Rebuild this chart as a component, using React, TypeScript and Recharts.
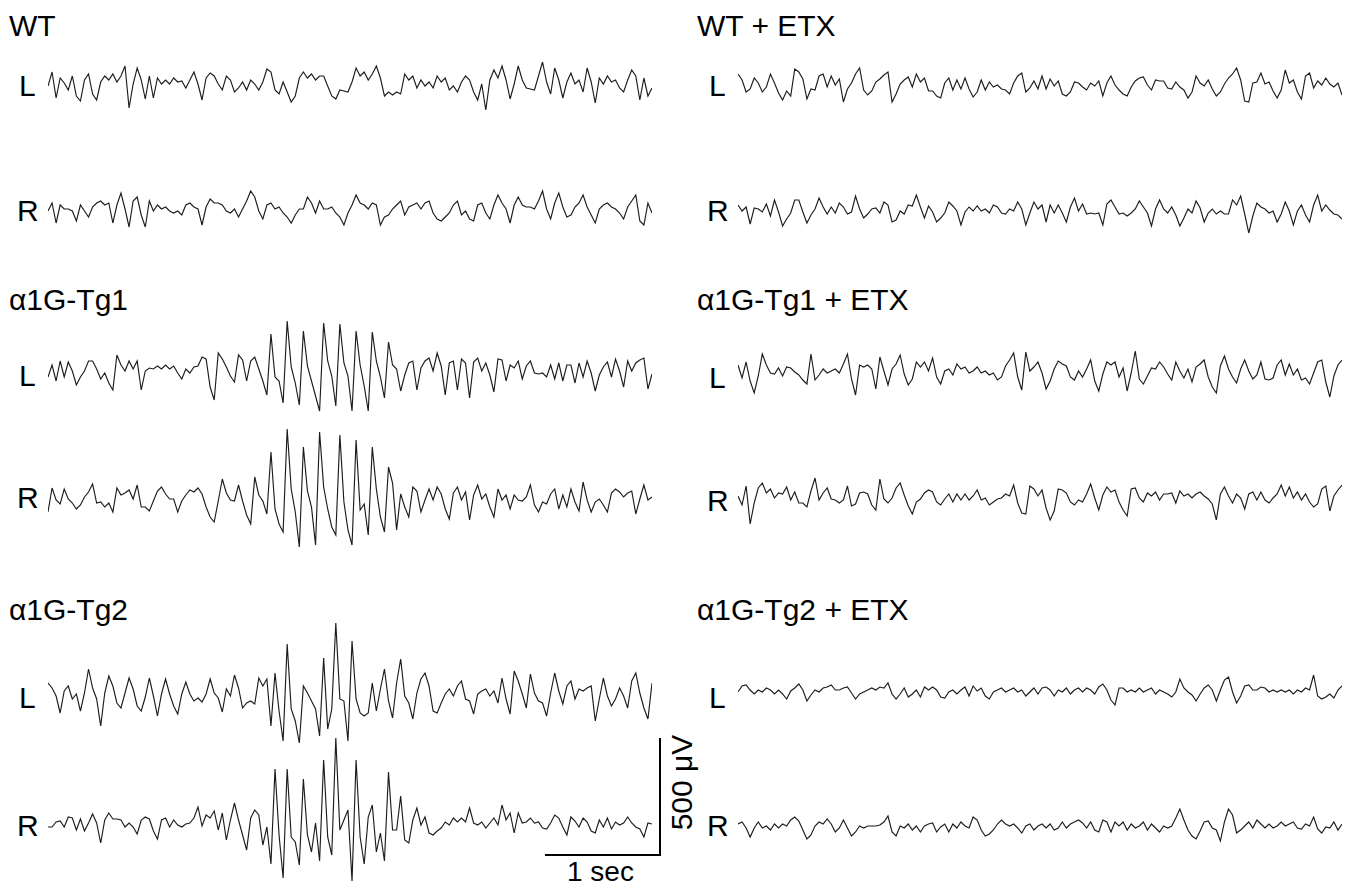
import React from "react";
import { LineChart, Line, XAxis, YAxis } from "recharts";

// EEG traces, amplitude (1 unit = 500/117 µV), 150 samples over ~5.25 s
const WT_L = [
  0, 14, -12, 8, 3, -4, 10, -10, -15, 6, 12, -8, -14, 4, 10,
  6, 12, 4, 10, 20, -22, 2, 18, 6, -13, 10, -12, 8, 2, 6,
  2, 8, 4, 5, -2, 6, 14, 2, -14, 8, 13, 10, 2, -4, 10,
  6, -6, -2, 4, -4, 6, 2, -4, 4, 17, 14, -4, -8, 4, -6,
  -16, -10, 8, 14, 8, 12, 6, 10, 10, 0, -10, -13, -4, -5, -6,
  4, 18, 10, 14, 6, 12, 20, 8, -10, -6, -9, -6, -8, 12, 6,
  10, -2, 6, 0, 4, -2, 10, 4, 8, -4, 0, -6, 4, 10, 6,
  -6, -14, 2, -24, 6, 16, 8, 20, 6, -13, 2, 20, 6, -2, -3,
  -4, 10, 24, 4, -8, 18, 6, -12, 4, 13, 2, 6, -6, 18, 4,
  -17, 8, 2, 10, 4, 6, -2, -6, 6, 16, 10, -14, 8, -10, -2,
];
const WT_R = [
  0, 8, -12, 6, 2, 2, 0, -10, 6, 0, -6, 4, 8, 10, 6,
  8, -12, 6, 18, 2, -16, 10, 14, -4, -16, 10, 0, 6, 2, 4,
  0, -2, 0, -4, 6, 8, 4, 2, -14, 4, 12, 8, 8, 6, 0,
  -2, 2, -6, 2, 10, 20, 14, 0, -8, 6, 8, 2, 4, -2, -6,
  -12, -4, 2, 2, 14, 8, -2, 10, 2, 2, 4, -2, -6, -14, -2,
  6, 16, 8, 6, 2, 8, 6, -14, -6, -4, 2, 6, 10, -4, 4,
  6, 8, 2, 8, 10, -2, -8, -10, -6, -2, 6, 10, -4, 0, -8,
  -10, 6, 8, -2, -8, 6, 16, 8, 2, -12, 6, 14, 6, 4, 4,
  2, 10, 20, 2, -8, 8, 18, 4, -6, -4, 4, 8, 16, 4, -4,
  -12, 2, 6, 8, 4, 2, -2, -8, 4, 10, 16, -10, -14, 8, -2,
];
const TG1_L = [
  -6, 6, -10, 10, -6, 9, 0, -14, -6, 0, 10, 10, 2, -8, -2,
  -12, -19, 16, 6, 0, 10, 2, 10, -19, 0, 3, 2, 5, 2, 6,
  2, 5, -2, -8, 2, -2, 4, 5, 14, 12, -16, -29, 18, 12, 4,
  -5, -11, 16, 11, -10, 10, 14, 2, -10, -24, 37, -6, -10, -32, 50,
  4, -12, -34, 40, 5, -10, -25, -40, 48, 10, -5, -35, 47, 8, -5,
  -40, 40, 6, -15, -40, 39, 10, -6, -27, 29, 6, 2, -20, -4, 8,
  10, -19, 3, 10, 13, 0, 18, 5, -24, 8, 10, -19, 12, 8, -27,
  9, 13, 0, 8, -4, -21, 12, 11, -10, 6, 3, 10, -8, 5, 10,
  -2, -3, -2, -6, 6, -8, 8, -10, 6, 6, -12, 8, -6, 10, -2,
  -20, -4, 4, 9, -6, 12, 0, -16, 10, 0, 8, 11, 13, -18, -3,
];
const TG1_R = [
  -15, 9, -3, -7, 8, -2, -6, -12, -8, 0, 5, 13, -6, -5, -10,
  -6, -15, 9, 2, 4, 7, -2, 12, -10, -10, -14, -4, 6, 10, 3,
  -2, -2, -15, -4, 2, 7, 5, 9, 3, -10, -20, -25, -4, 18, 4,
  -3, -4, 12, -4, -18, -27, 20, 2, -4, -17, 45, -12, -27, -35, 68,
  8, -15, -50, 50, 6, -10, -48, 65, 10, -12, -30, -38, 62, -5, -33,
  -48, 57, -13, -7, -38, 50, 8, -20, -35, 30, 14, -33, 3, -10, -20,
  10, 6, -15, -3, 8, -3, 10, 3, -12, -22, 4, 10, -3, 5, -23,
  2, 12, -2, 3, -10, -20, 8, -3, 2, -12, 2, -3, -4, 0, 12,
  -8, -15, -5, -7, 3, 8, -12, 2, -10, 8, -5, -14, 15, -3, -15,
  -5, -2, -8, -15, 4, 8, 5, 0, 4, 6, -17, -2, 12, -3, 0,
];
const TG2_L = [
  8, 3, -5, -22, 0, 5, -8, -3, -20, -2, 22, 3, -8, -35, -2,
  15, 5, -12, -17, -2, 13, 2, -15, -20, -6, 13, -5, -25, -3, 12,
  -3, -15, -23, -3, 9, -3, -10, -7, -11, -3, 12, -2, -7, -21, 2,
  -5, 16, 3, -17, -12, -10, -13, 13, 5, 12, -35, 18, -20, -50, 47,
  -18, -30, -52, 5, -2, -10, -18, -45, 33, -38, -18, 68, -8, -10, -50,
  50, -8, -22, -25, -22, 8, -20, 2, 22, -10, -27, 8, 32, -5, -12,
  -28, -2, 12, 18, 5, -20, -22, -12, -3, 2, -5, 5, 10, -8, -10,
  -23, -3, 0, 2, -5, 0, -12, 13, -8, -23, 20, 10, -3, -17, 17,
  -2, -10, -12, -25, -2, 18, 0, -13, 5, 10, -8, 2, 0, 3, 5,
  -30, -8, 13, -5, -15, -8, 3, -5, -17, 10, 18, -2, -17, -28, 8,
];
const TG2_R = [
  -2, -2, 3, 4, -2, 8, 7, -5, 6, -6, 2, 11, 2, -18, 5,
  12, 6, 6, 5, -2, 2, -2, -9, 5, 8, 6, -6, -14, 5, 7,
  -2, 5, 0, -2, 1, 2, 7, 18, -1, 10, 7, 14, -5, 12, -15,
  5, 22, 5, -10, -25, 7, 15, 10, -20, -2, -39, 56, -10, -53, 56,
  -12, -17, -40, 46, -10, -27, 2, -36, 65, -12, -30, 87, -5, 5, 15,
  -56, 65, -12, -39, 8, 20, -27, -8, -36, 53, -5, -5, 29, -15, -18,
  5, 17, 0, 8, -8, -10, -6, -3, 3, 0, 7, 3, 7, 3, 17,
  2, 0, 3, -3, 2, 7, 0, 20, 5, 12, -8, 12, 2, 3, 7,
  2, 3, -3, -4, 2, 10, 7, -2, -10, 8, 4, -2, 7, 3, -6,
  -8, 5, -2, 7, -4, 3, 0, 2, 8, 2, -2, -4, -12, 2, 1,
];
const ETX_WT_L = [
  12, 6, -6, -3, 8, 3, -6, -1, 12, 3, -7, -14, -5, -10, 17,
  14, 7, -13, -3, -4, 10, 12, -1, 10, 1, 7, -16, -3, 3, 12,
  18, -4, -9, -5, 4, 7, 11, 14, -16, -8, 2, 6, 9, -1, 12,
  4, 8, -5, -5, -10, -12, 3, 8, -4, 6, -3, 8, -3, -11, -6,
  6, -4, 4, -1, 1, -3, -4, -8, 3, 10, 13, -6, -2, 5, -3,
  10, -3, 7, 0, 5, -8, -10, -6, 4, 3, -1, -4, 3, 0, 5,
  -10, 3, 10, 1, -4, -8, -10, -1, 5, 8, 9, 1, -4, 6, 5,
  5, -2, -3, 4, -1, -4, -12, -6, 10, 3, 0, 6, -3, -10, -6,
  2, 8, 12, 18, 6, -15, -16, 3, 4, 13, 2, 4, -5, -12, -4,
  16, 3, 6, -6, -13, 10, 13, -2, 5, 1, 8, 2, -1, 3, -9,
];
const ETX_WT_R = [
  5, -1, 3, -14, 2, 1, -2, 6, -6, 10, -2, -16, -9, -3, 10,
  10, -2, -13, -5, 1, 12, 3, -4, 3, -3, 7, 3, -4, -2, 14,
  1, -8, -4, 1, 2, -3, 8, 5, -12, -10, -1, -4, 5, 4, 15,
  3, -8, 4, -2, -12, -8, -3, 8, 4, -1, -15, -2, 3, -1, 4,
  -1, 1, -3, 5, 3, -3, -4, 1, -1, 8, 1, -15, -3, 8, 1,
  5, -12, 5, -3, 5, -3, -12, 3, 12, -1, 6, -4, -3, -4, -3,
  -15, 6, 10, 3, -4, -3, -6, -3, 1, 9, 3, -3, -16, 1, 10,
  1, -3, 3, -5, -16, -8, 1, -3, 9, 2, -12, -3, 1, -4, -1,
  -4, -4, 10, 5, 14, -4, -23, -6, 7, 3, 1, -3, -1, -12, -4,
  8, -1, -15, -1, 5, -5, -12, 5, 15, -1, 5, 0, -4, -5, -9,
];
const ETX_TG1_L = [
  6, -7, 9, -10, -22, -5, 17, 6, -2, -3, 3, -5, 4, 3, -1,
  -4, -9, -13, 17, -9, -4, 2, -2, 0, 2, -2, 7, 17, -8, -24,
  6, 4, 6, 2, -18, 14, 0, -14, 2, 7, 16, -3, -14, -8, 9,
  4, 9, 0, 13, -6, -13, 0, 2, -4, 7, 2, 4, -2, 0, 4,
  -2, 0, -4, -2, -9, -6, 5, 11, 18, -6, -19, 19, 0, 4, 9,
  -2, -18, -10, 2, 10, 7, 5, -6, -9, 0, -6, 2, 11, -10, -20,
  -3, 9, 6, 9, -6, 3, -20, -2, 20, -8, -13, -5, 3, 2, 9,
  4, -3, -9, 9, 0, -7, 2, -11, 4, 7, 11, -6, -16, -22, 5,
  15, 2, -6, -12, 2, 11, 0, -8, -4, 9, -8, -9, -7, 6, 11,
  -4, 7, -4, 2, -9, -7, -13, -2, 9, 11, -11, -26, -5, 6, 11,
];
const ETX_TG1_R = [
  0, -9, 10, -28, -7, 8, 13, 3, 7, -2, 3, 2, 9, -4, 4,
  -7, -7, -11, 5, 18, -4, 3, 8, -3, -4, -7, -4, 10, -10, -8,
  3, 4, 2, -9, -14, 17, -3, -7, -2, 8, 13, 1, -10, -18, -6,
  -3, 3, 6, 4, -6, -9, -3, 2, -6, 2, -4, 2, -4, 0, 6,
  -4, -2, -9, -6, -3, -2, 2, 0, 11, -7, -17, -18, 10, 7, 0,
  6, -12, -24, -15, 7, 6, 3, -6, -9, -4, -6, 2, 12, -2, -14,
  1, 9, 4, 6, -6, -14, -20, 7, 8, -2, -6, 3, 0, 4, -4,
  2, 2, 3, -7, 5, 0, 2, -2, 2, 4, 0, -3, -8, -24, 2,
  9, 0, -7, 2, -2, -13, 2, 4, -4, 4, -4, -7, -2, 2, 11,
  0, 9, -2, 4, -4, 2, -6, -11, -8, 7, 10, -15, 0, 6, 11,
];
const ETX_TG2_L = [
  0, 6, 7, 2, -2, 2, 0, 4, 2, -2, 2, -2, -7, 1, 4,
  8, 2, -9, -3, 2, 0, 4, 5, 7, 2, 2, 4, 5, -1, -7,
  -2, 0, 2, 4, 2, 5, 4, 9, -2, -7, -2, 4, -5, -2, 2,
  -5, 5, 2, 5, 2, -5, -6, 0, 2, -2, 2, 5, -4, 6, 1,
  4, -4, -7, 0, 2, 4, 0, 2, 4, 0, 2, -4, 0, 4, -2,
  4, 5, 2, -4, 2, 0, 4, -2, 2, 4, 0, 4, 2, -2, 5,
  8, 2, -8, -13, 4, 4, 0, 2, 0, 4, 0, 2, 4, -2, 2,
  0, -2, -5, 0, 13, 4, 0, -3, -9, -2, 4, 7, 2, -9, 2,
  12, 15, 0, -11, -4, 6, 7, 2, 2, 5, 4, 0, 2, 0, 2,
  0, 2, -2, 2, 0, 4, 2, 17, -4, -7, -5, -2, -6, 2, 6,
];
const ETX_TG2_R = [
  2, 4, -2, -11, -2, 4, -2, 0, -4, 2, -2, 2, 0, 6, 9,
  5, -4, -13, -9, 0, 4, 2, 7, 2, -6, -2, 6, -2, -10, -6,
  0, -2, 0, 0, 0, 1, 4, 10, -6, -10, 0, -2, 2, -4, 0,
  -6, 0, 2, 3, -6, -1, 2, -6, 2, -2, 4, 0, -2, 9, 6,
  -4, -10, -8, -4, 2, 6, 2, 0, 2, -2, -7, 0, 2, -4, 0,
  2, -2, 2, -4, -2, 4, -2, 2, 4, 6, 3, -2, 4, -4, -6,
  6, 4, -6, 4, 0, 4, -4, 2, -2, 0, 4, -4, 2, -2, -6,
  0, -2, 0, 8, 17, 6, -4, -10, -13, -5, 4, 5, -2, -4, -15,
  4, 17, 11, -7, -4, 0, 4, -2, 6, 2, -2, 2, -2, 0, 4,
  0, 2, 4, -2, -3, 2, 0, 9, -3, -7, -1, -2, 4, -4, 2,
];

const PANEL_TITLES = ["WT", "α1G-Tg1", "α1G-Tg2"];
const PANEL_TITLES_ETX = ["WT + ETX", "α1G-Tg1 + ETX", "α1G-Tg2 + ETX"];
const CHANNELS = ["L", "R"];
const SCALE_UV = 500;
const SCALE_SEC = 1;
const SCALE_LABEL_UV = "500 μV";
const SCALE_LABEL_SEC = "1 sec";

const DURATION_SEC = 5.25;
const UV_PER_UNIT = 500 / 117;
const TRACE_W = 604;
const TRACE_H = 200;
const FONT = "'Liberation Sans', Arial, Helvetica, sans-serif";

const TRACES = [
  { values: WT_L, left: 48, base: 86 },
  { values: WT_R, left: 48, base: 211 },
  { values: TG1_L, left: 48, base: 371 },
  { values: TG1_R, left: 48, base: 497 },
  { values: TG2_L, left: 48, base: 691 },
  { values: TG2_R, left: 48, base: 825 },
  { values: ETX_WT_L, left: 738, base: 86 },
  { values: ETX_WT_R, left: 738, base: 210 },
  { values: ETX_TG1_L, left: 738, base: 371 },
  { values: ETX_TG1_R, left: 738, base: 496 },
  { values: ETX_TG2_L, left: 738, base: 692 },
  { values: ETX_TG2_R, left: 738, base: 826 },
];

function Trace({ values, left, base }: { values: number[]; left: number; base: number }) {
  const data = values.map((v, i) => ({ t: (i * DURATION_SEC) / (values.length - 1), v }));
  return (
    <div style={{ position: "absolute", left, top: base - TRACE_H / 2, width: TRACE_W, height: TRACE_H }}>
      <LineChart width={TRACE_W} height={TRACE_H} data={data} margin={{ top: 0, right: 0, bottom: 0, left: 0 }}>
        <XAxis dataKey="t" type="number" domain={[0, DURATION_SEC]} hide />
        <YAxis type="number" domain={[-TRACE_H / 2, TRACE_H / 2]} hide />
        <Line
          dataKey="v"
          type="linear"
          stroke="#1c1c1c"
          strokeWidth={1.15}
          dot={false}
          activeDot={false}
          isAnimationActive={false}
        />
      </LineChart>
    </div>
  );
}

export default function App() {
  const titleY = [36, 310, 620];
  const chanY = [
    [96, 221],
    [386, 508],
    [708, 836],
  ];
  const chanYR = [
    [96, 221],
    [388, 511],
    [708, 836],
  ];
  const barV = SCALE_UV / UV_PER_UNIT;
  const barH = (TRACE_W / DURATION_SEC) * SCALE_SEC;
  const barX = 660;
  const barY = 855;
  return (
    <div style={{ position: "absolute", left: 0, top: 0, width: 1353, height: 888, background: "#fff", overflow: "hidden" }}>
      {TRACES.map((t, i) => (
        <Trace key={i} values={t.values} left={t.left} base={t.base} />
      ))}
      <svg width={1353} height={888} style={{ position: "absolute", left: 0, top: 0, pointerEvents: "none" }}>
        <g fontFamily={FONT} fontSize={30} fill="#000">
          {PANEL_TITLES.map((t, i) => (
            <text key={"l" + i} x={9} y={titleY[i]}>{t}</text>
          ))}
          {PANEL_TITLES_ETX.map((t, i) => (
            <text key={"r" + i} x={697} y={titleY[i]}>{t}</text>
          ))}
          {chanY.map((pair, i) =>
            CHANNELS.map((c, j) => (
              <text key={"cl" + i + j} x={c === "L" ? 19 : 17} y={pair[j]}>{c}</text>
            ))
          )}
          {chanYR.map((pair, i) =>
            CHANNELS.map((c, j) => (
              <text key={"cr" + i + j} x={c === "L" ? 709 : 707} y={pair[j]}>{c}</text>
            ))
          )}
          <text x={barX - barH / 2 - 2} y={881} fontSize={28} textAnchor="middle">{SCALE_LABEL_SEC}</text>
          <text transform={`translate(${barX + 32}, ${barY - barV / 2 - 14}) rotate(-90)`} textAnchor="middle">
            {SCALE_LABEL_UV}
          </text>
        </g>
        <line x1={barX} y1={barY - barV} x2={barX} y2={barY} stroke="#000" strokeWidth={2} />
        <line x1={barX - barH} y1={barY} x2={barX + 1} y2={barY} stroke="#000" strokeWidth={2} />
      </svg>
    </div>
  );
}
